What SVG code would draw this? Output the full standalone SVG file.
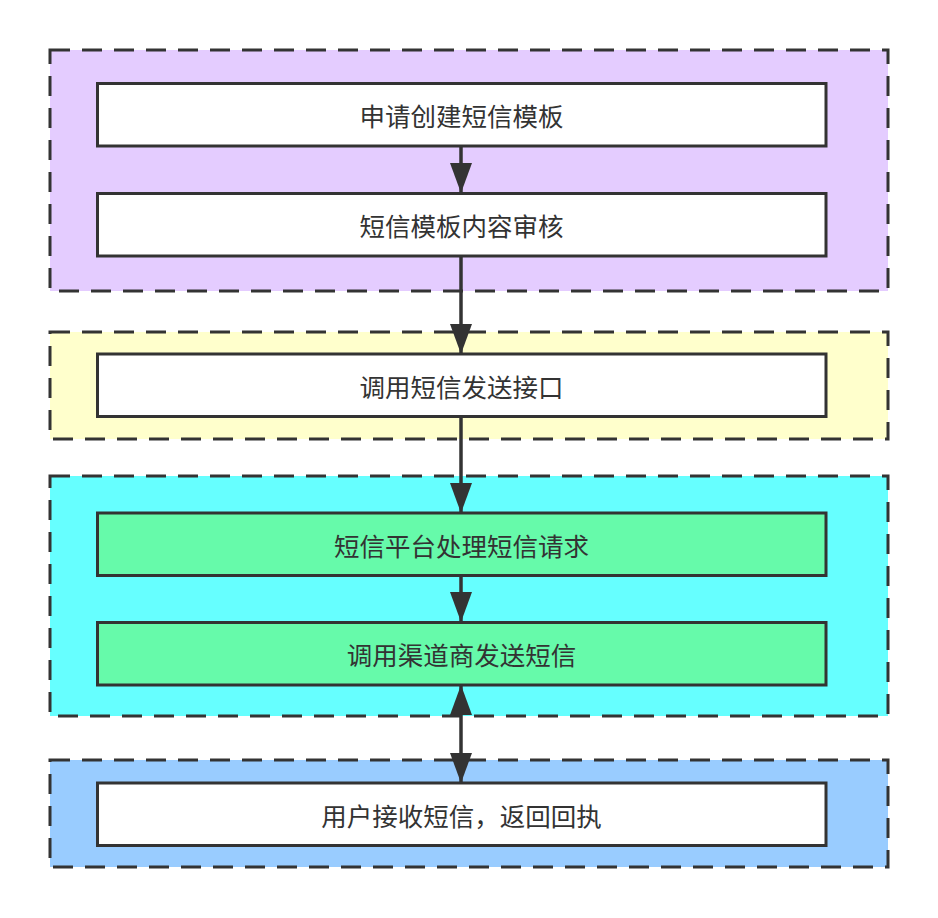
<svg xmlns="http://www.w3.org/2000/svg" width="938" height="918" viewBox="0 0 938 918">
<defs>
<style>
.cl{stroke:#333;stroke-width:3;stroke-dasharray:20 12}
.nd{stroke:#333;stroke-width:3}
.tx{font-family:"Noto Sans CJK SC","Noto Sans",sans-serif;font-size:25.5px;fill:#333;text-anchor:middle}
.ln{stroke:#333;stroke-width:3.5;fill:none}
</style>
<marker id="ah" markerUnits="userSpaceOnUse" markerWidth="30" markerHeight="22" refX="30" refY="11" orient="auto" viewBox="0 0 30 22">
<path d="M0,0 L30,11 L0,22 Z" fill="#333"/>
</marker>
<marker id="as" markerUnits="userSpaceOnUse" markerWidth="30" markerHeight="22" refX="0" refY="11" orient="auto" viewBox="0 0 30 22">
<path d="M30,0 L0,11 L30,22 Z" fill="#333"/>
</marker>
</defs>
<rect width="938" height="918" fill="#fff"/>
<g id="cluster1"><rect class="cl" x="50" y="50" width="838" height="241" fill="#E4CCFF"/></g>
<g id="cluster2"><rect class="cl" x="50" y="332" width="838" height="107" fill="#FFFFCC"/></g>
<g id="cluster3"><rect class="cl" x="50" y="476" width="838" height="240" fill="#66FFFF"/></g>
<g id="cluster4"><rect class="cl" x="50" y="760" width="838" height="107" fill="#99CCFF"/></g>
<g id="connectors">
<path class="ln" d="M461,146 L461,193" marker-end="url(#ah)"/>
<path class="ln" d="M461,256 L461,354" marker-end="url(#ah)"/>
<path class="ln" d="M461,416 L461,513" marker-end="url(#ah)"/>
<path class="ln" d="M461,575 L461,622" marker-end="url(#ah)"/>
<path class="ln" d="M461,685 L461,783" marker-start="url(#as)" marker-end="url(#ah)"/>
</g>
<g id="n1"><rect class="nd" x="97.5" y="83.5" width="728.5" height="62.5" fill="#fff"/><text class="tx" x="461.5" y="126">申请创建短信模板</text></g>
<g id="n2"><rect class="nd" x="97.5" y="193.5" width="728.5" height="62.5" fill="#fff"/><text class="tx" x="461.5" y="236">短信模板内容审核</text></g>
<g id="n3"><rect class="nd" x="97.5" y="354" width="728.5" height="62.5" fill="#fff"/><text class="tx" x="461.5" y="396.5">调用短信发送接口</text></g>
<g id="n4"><rect class="nd" x="97.5" y="513" width="728.5" height="62.5" fill="#66FAAA"/><text class="tx" x="461.5" y="555.5">短信平台处理短信请求</text></g>
<g id="n5"><rect class="nd" x="97.5" y="622.5" width="728.5" height="62.5" fill="#66FAAA"/><text class="tx" x="461.5" y="665">调用渠道商发送短信</text></g>
<g id="n6"><rect class="nd" x="97.5" y="783" width="728.5" height="62.5" fill="#fff"/><text class="tx" x="461.5" y="825.5">用户接收短信，返回回执</text></g>
</svg>
